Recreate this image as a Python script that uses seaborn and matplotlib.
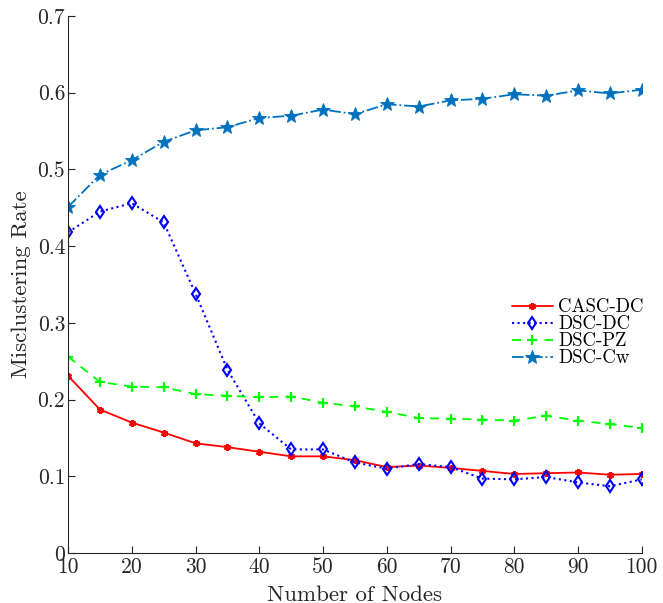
import matplotlib
matplotlib.use("Agg")
import matplotlib.pyplot as plt
import seaborn as sns
import pandas as pd

nodes = [10, 15, 20, 25, 30, 35, 40, 45, 50, 55, 60, 65, 70, 75, 80, 85, 90, 95, 100]
casc_dc = [0.231, 0.187, 0.170, 0.157, 0.143, 0.138, 0.132, 0.126, 0.126, 0.121, 0.112,
           0.114, 0.111, 0.107, 0.103, 0.104, 0.105, 0.102, 0.103]
dsc_dc = [0.418, 0.445, 0.456, 0.431, 0.338, 0.239, 0.169, 0.135, 0.135, 0.118, 0.110,
          0.116, 0.112, 0.097, 0.096, 0.099, 0.092, 0.087, 0.096]
dsc_pz = [0.256, 0.223, 0.217, 0.216, 0.207, 0.205, 0.203, 0.204, 0.196, 0.191, 0.184,
          0.176, 0.175, 0.174, 0.1725, 0.179, 0.1725, 0.168, 0.163]
dsc_cw = [0.451, 0.493, 0.512, 0.536, 0.551, 0.555, 0.567, 0.570, 0.578, 0.572, 0.585,
          0.582, 0.590, 0.592, 0.598, 0.596, 0.603, 0.599, 0.604]
series_names = ["CASC-DC", "DSC-DC", "DSC-PZ", "DSC-Cw"]
x_ticks = [10, 20, 30, 40, 50, 60, 70, 80, 90, 100]
y_ticks = [0, 0.1, 0.2, 0.3, 0.4, 0.5, 0.6, 0.7]
y_tick_labels = ["0", "0.1", "0.2", "0.3", "0.4", "0.5", "0.6", "0.7"]

sns.set_theme(style="ticks")
plt.rcParams["font.family"] = ["cmr10", "DejaVu Serif"]
plt.rcParams["axes.formatter.use_mathtext"] = True
plt.rcParams["mathtext.fontset"] = "cm"

axis_col = "#262626"
fig = plt.figure(figsize=(6.63, 6.03), dpi=100)
ax = fig.add_axes([0.1026, 0.0829, 0.8655, 0.8906])

styles = {
    "CASC-DC": dict(color=(1, 0, 0), linestyle="-", marker=(6, 2, 0), markersize=5,
                    markeredgewidth=1.6, mfc=(1, 0, 0), mec=(1, 0, 0), lw=1.3),
    "DSC-DC": dict(color=(0, 0, 1), linestyle=":", marker="d", markersize=6,
                   markeredgewidth=1.5, mfc="none", mec=(0, 0, 1), lw=1.5),
    "DSC-PZ": dict(color=(0, 1, 0), linestyle=(0, (5, 4)), marker="+", markersize=7,
                   markeredgewidth=1.6, mec=(0, 1, 0), lw=1.3),
    "DSC-Cw": dict(color=(0, 0.447, 0.741), linestyle="-.", marker="*", markersize=10,
                   markeredgewidth=0.6, mfc=(0, 0.447, 0.741), mec=(0, 0.447, 0.741), lw=1.3),
}
values = {"CASC-DC": casc_dc, "DSC-DC": dsc_dc, "DSC-PZ": dsc_pz, "DSC-Cw": dsc_cw}

for name in series_names:
    df = pd.DataFrame({"Nodes": nodes, "Rate": values[name]})
    st = styles[name]
    sns.lineplot(data=df, x="Nodes", y="Rate", ax=ax, label=name,
                 color=st["color"], linestyle=st["linestyle"], marker=st["marker"],
                 markersize=st["markersize"], markeredgewidth=st["markeredgewidth"],
                 markerfacecolor=st.get("mfc", st["color"]), markeredgecolor=st["mec"],
                 linewidth=st["lw"])

ax.set_xlim(10, 100)
ax.set_ylim(0, 0.7)
ax.set_xticks(x_ticks)
ax.set_xticklabels([str(t) for t in x_ticks])
ax.set_yticks(y_ticks)
ax.set_yticklabels(y_tick_labels)
ax.tick_params(direction="in", length=5, width=0.8, colors=axis_col, labelsize=15.5, pad=2)
ax.tick_params(axis="x", pad=3)
for s in ["top", "right"]:
    ax.spines[s].set_visible(False)
for s in ["left", "bottom"]:
    ax.spines[s].set_color(axis_col)
    ax.spines[s].set_linewidth(0.8)
ax.set_xlabel("Number of Nodes", fontsize=16.5, color=axis_col, labelpad=6)
ax.set_ylabel("Misclustering Rate", fontsize=16.5, color=axis_col, labelpad=5)

leg = ax.legend(loc="center left", bbox_to_anchor=(0.75, 0.41), frameon=False,
                fontsize=13.5, handlelength=2.2, handletextpad=0.3, labelspacing=-0.05,
                borderpad=0.2)
for t in leg.get_texts():
    t.set_color("black")

fig.savefig("out.png", dpi=100)
